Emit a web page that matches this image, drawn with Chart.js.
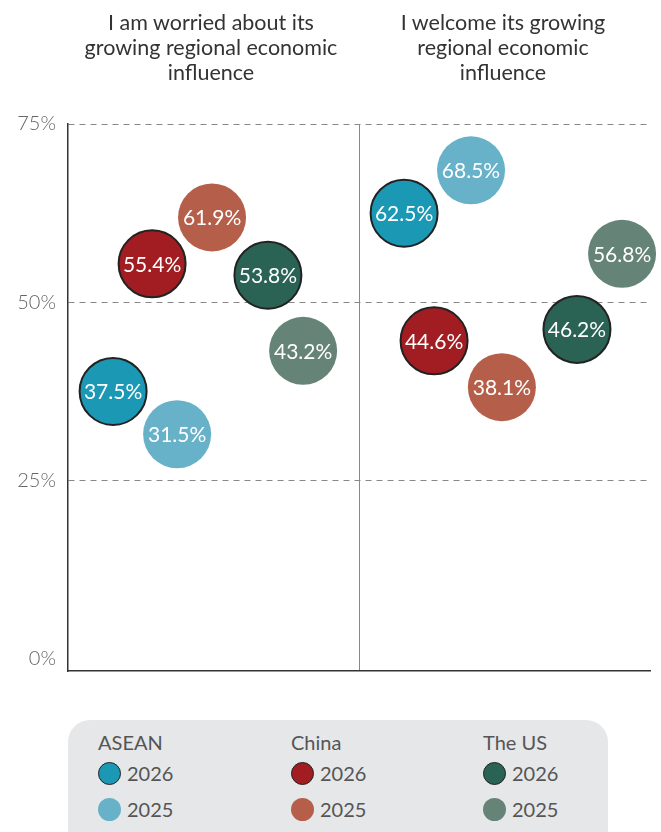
<!DOCTYPE html>
<html>
<head>
<meta charset="utf-8">
<style>
  body { margin: 0; background: #fff; font-family: Lato, "Open Sans", sans-serif; }
  #wrap { position: relative; width: 661px; height: 832px; overflow: hidden; }
  #chart { position: absolute; left: 0; top: 0; }
  .title { position: absolute; top: 10px; width: 320px; text-align: center; font-size: 21.5px; line-height: 25px; color: #333; }
  #legend { position: absolute; left: 68px; top: 720px; width: 540px; height: 140px; background: #e6e7e9; border-radius: 22px; }
  .lg { position: absolute; font-size: 20px; color: #555; line-height: 24px; }
  .dot { display: inline-block; width: 23px; height: 23px; border-radius: 50%; vertical-align: -4px; margin-right: 6px; box-sizing: border-box; }
</style>
</head>
<body>
<div id="wrap">
  <canvas id="chart" width="661" height="695"></canvas>
  <div id="titles"></div>
  <div id="legend"></div>
</div>

<script src="https://cdn.jsdelivr.net/npm/chart.js"></script>
<script>
// data
const panels = ["I am worried about its growing regional economic influence",
                "I welcome its growing regional economic influence"];
const countries = ["ASEAN", "China", "The US"];
const years = ["2026", "2025"];
const asean2026 = [37.5, 62.5];
const asean2025 = [31.5, 68.5];
const china2026 = [55.4, 44.6];
const china2025 = [61.9, 38.1];
const us2026 = [53.8, 46.2];
const us2025 = [43.2, 56.8];
const yTicks = [0, 25, 50, 75];

(() => {
  // layout: where each bubble sits inside its panel (0..1), per panel
  const series = [
    { name: "ASEAN", year: "2026", vals: asean2026, color: "#1a98b4", slot: [0.155, 0.155] },
    { name: "China", year: "2026", vals: china2026, color: "#a11d21", slot: [0.289, 0.258] },
    { name: "The US", year: "2026", vals: us2026, color: "#2a6253", slot: [0.687, 0.749] },
    { name: "ASEAN", year: "2025", vals: asean2025, color: "#67b1c9", slot: [0.375, 0.385] },
    { name: "China", year: "2025", vals: china2025, color: "#b55f4a", slot: [0.495, 0.491] },
    { name: "The US", year: "2025", vals: us2025, color: "#658376", slot: [0.808, 0.904] }
  ];

  const datasets = series.map(s => {
    const is26 = s.year === "2026";
    return {
      label: s.name + " " + s.year,
      data: s.vals.map((v, i) => ({ x: i + s.slot[i], y: v, r: is26 ? 33.5 : 34 })),
      backgroundColor: s.color,
      borderColor: "#222",
      borderWidth: is26 ? 2 : 0,
      clip: false
    };
  });

  const bubbleText = {
    id: "bubbleText",
    afterDatasetsDraw(chart) {
      const ctx = chart.ctx;
      ctx.save();
      ctx.fillStyle = "#fff";
      ctx.font = "21px Lato";
      ctx.textAlign = "center";
      ctx.textBaseline = "middle";
      chart.data.datasets.forEach((ds, di) => {
        chart.getDatasetMeta(di).data.forEach((el, i) => {
          ctx.fillText(ds.data[i].y.toFixed(1) + "%", el.x, el.y + 1);
        });
      });
      ctx.restore();
    }
  };

  new Chart(document.getElementById("chart"), {
    type: "bubble",
    data: { datasets: datasets },
    plugins: [bubbleText],
    options: {
      responsive: false,
      animation: false,
      layout: { autoPadding: false, padding: { top: 124, right: 11, bottom: 16, left: 0 } },
      plugins: { legend: { display: false }, tooltip: { enabled: false } },
      scales: {
        x: {
          type: "linear", min: 0, max: 2,
          afterBuildTicks: s => { s.ticks = [{ value: 1 }]; },
          afterFit: s => { s.height = 0; },
          ticks: { display: false },
          grid: { color: "#888", lineWidth: 1, drawTicks: false },
          border: { display: true, color: "#333", width: 1.5 }
        },
        y: {
          min: -1.7, max: 75,
          afterBuildTicks: s => { s.ticks = yTicks.map(v => ({ value: v })); },
          afterFit: s => { s.width = 68; },
          ticks: {
            padding: 12,
            color: "#666",
            font: { family: "Lato", size: 20, weight: 300 },
            callback: v => v + "%"
          },
          grid: {
            color: c => c.tick && c.tick.value === 0 ? "transparent" : "#888",
            lineWidth: 1,
            drawTicks: false
          },
          border: { display: true, color: "#333", width: 1.5, dash: [6, 5] }
        }
      }
    }
  });

  // panel titles
  const centers = [211, 503];
  const titleBox = document.getElementById("titles");
  const lines = [
    ["I am worried about its", "growing regional economic", "influence"],
    ["I welcome its growing", "regional economic", "influence"]
  ];
  panels.forEach((p, i) => {
    const d = document.createElement("div");
    d.className = "title";
    d.style.left = (centers[i] - 160) + "px";
    d.title = p;
    d.innerHTML = lines[i].join("<br>");
    titleBox.appendChild(d);
  });

  // legend
  const legend = document.getElementById("legend");
  const colX = [30, 223, 415];
  countries.forEach((c, ci) => {
    const h = document.createElement("div");
    h.className = "lg";
    h.style.left = colX[ci] + "px";
    h.style.top = "10px";
    h.textContent = c;
    legend.appendChild(h);
    years.forEach((y, yi) => {
      const s = series.find(o => o.name === c && o.year === y);
      const row = document.createElement("div");
      row.className = "lg";
      row.style.left = colX[ci] + "px";
      row.style.top = (yi === 0 ? 41 : 77) + "px";
      const border = y === "2026" ? "border:1.5px solid #222;" : "";
      row.innerHTML = `<span class="dot" style="background:${s.color};${border}"></span>${y}`;
      legend.appendChild(row);
    });
  });
})();
</script>
</body>
</html>
